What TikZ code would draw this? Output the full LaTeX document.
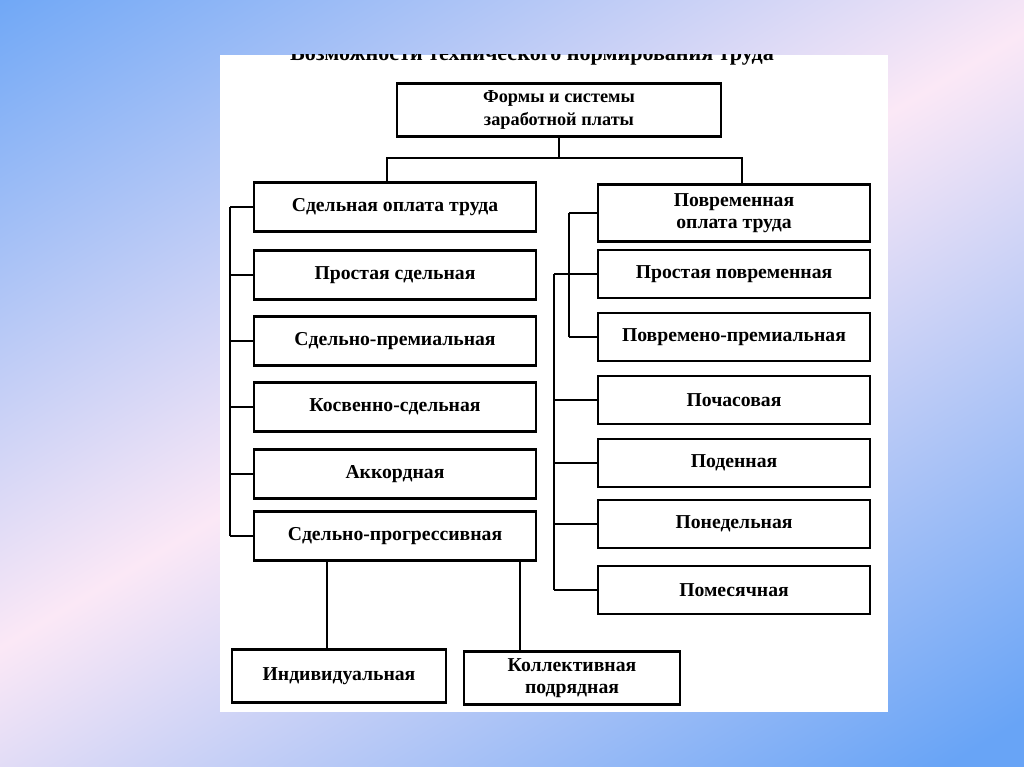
\documentclass[tikz,border=0pt]{standalone}
\usepackage{fontspec}
\setmainfont{Liberation Serif}
\usetikzlibrary{calc, positioning}

\definecolor{bgblue}{HTML}{68A4F6}
\definecolor{bgpink}{HTML}{FBE8F6}

\begin{document}
\begin{tikzpicture}[x=0.025cm, y=-0.025cm,
 box/.style={draw, line width=1.9pt, minimum width=7.05cm, minimum height=1.22cm, align=center, inner sep=2pt, font=\fontsize{14}{16}\selectfont\bfseries},
 rbox/.style={box, minimum width=6.8cm, minimum height=1.2cm},
 sbox/.style={box, minimum width=5.35cm, minimum height=1.32cm},
 link/.style={line width=1.4pt}]
\useasboundingbox (0,0) rectangle (1024,767);
\clip (0,0) rectangle (1024,767);
% background
\shade[top color=bgblue, bottom color=bgblue, middle color=bgpink, shading angle=31] (-78,-250) rectangle (1102,930);
\fill[white] (220,55) rectangle (888,712);
\begin{scope}
\clip (220,55) rectangle (888,712);
\node[anchor=base, font=\fontsize{15.7}{17}\selectfont\bfseries] (caption) at (532,61) {Возможности технического нормирования труда};
\end{scope}
% top
\node[box, minimum width=8.1cm, minimum height=1.32cm, font=\fontsize{13}{16}\selectfont\bfseries] (forms) at (559,110) {Формы и системы\\заработной платы};
% piece-rate column
\node[box] (sdel) at (395,207) {Сдельная оплата труда};
\node[box] (sprost) at (395,275) {Простая сдельная};
\node[box] (sprem) at (395,341) {Сдельно-премиальная};
\node[box] (kosv) at (395,407) {Косвенно-сдельная};
\node[box] (akk) at (395,474) {Аккордная};
\node[box] (progr) at (395,536) {Сдельно-прогрессивная};
% time-rate column
\node[rbox, minimum height=1.42cm] (vrem) at (734,213) {Повременная\\оплата труда};
\node[rbox] (vprost) at (734,274) {Простая повременная};
\node[rbox] (vprem) at (734,337) {Повремено-премиальная};
\node[rbox] (chas) at (734,400) {Почасовая};
\node[rbox] (den) at (734,463) {Поденная};
\node[rbox] (ned) at (734,524) {Понедельная};
\node[rbox] (mes) at (734,590) {Помесячная};
% bottom
\node[sbox] (indiv) at (339,676) {Индивидуальная};
\node[sbox, minimum width=5.4cm] (kollekt) at (572,678) {Коллективная\\подрядная};
% connectors
\coordinate (fork) at (559,158);
\draw[link] (forms.south) -- (fork);
\draw[link] ([xshift=-0.2cm]sdel.north) |- (fork) -| ([xshift=0.2cm]vrem.north);
\coordinate (lbus) at (230,0);
\draw[link] (sdel.west -| lbus) -- (progr.west -| lbus);
\foreach \n in {sdel,sprost,sprem,kosv,akk,progr} \draw[link] (\n.west) -- (\n.west -| lbus);
\coordinate (rin) at (569,0);
\coordinate (rout) at (554,0);
\draw[link] (vrem.west -| rin) -- (vprem.west -| rin);
\foreach \n in {vrem,vprem} \draw[link] (\n.west) -- (\n.west -| rin);
\draw[link] (vprost.west -| rout) -- (mes.west -| rout);
\foreach \n in {vprost,chas,den,ned,mes} \draw[link] (\n.west) -- (\n.west -| rout);
\coordinate (pi) at ($(progr.south west)!0.26!(progr.south east)$);
\coordinate (pk) at ($(progr.south west)!0.94!(progr.south east)$);
\draw[link] (pi) -- (pi |- indiv.north);
\draw[link] (pk) -- (pk |- kollekt.north);
\end{tikzpicture}
\end{document}
